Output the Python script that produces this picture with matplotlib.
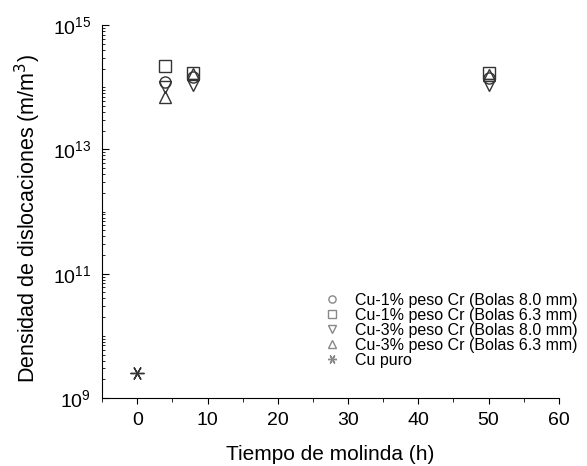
import matplotlib.pyplot as plt
from matplotlib.ticker import LogLocator, NullFormatter, MultipleLocator, FixedLocator

plt.rcParams['font.family'] = ['Liberation Sans', 'DejaVu Sans']

# datos
tiempo = [4, 8, 50]
cu1_8 = [1.2e14, 1.45e14, 1.4e14]   # Cu-1% Cr, bolas 8.0 mm
cu1_63 = [2.2e14, 1.7e14, 1.7e14]   # Cu-1% Cr, bolas 6.3 mm
cu3_8 = [1.0e14, 1.1e14, 1.1e14]    # Cu-3% Cr, bolas 8.0 mm
cu3_63 = [7.0e13, 1.65e14, 1.6e14]  # Cu-3% Cr, bolas 6.3 mm
tiempo_puro = [0]
cu_puro = [2.5e9]
y_mayores = [1e9, 1e11, 1e13, 1e15]

series = [
    (tiempo, cu1_8, 'o', 'Cu-1% peso Cr (Bolas 8.0 mm)'),
    (tiempo, cu1_63, 's', 'Cu-1% peso Cr (Bolas 6.3 mm)'),
    (tiempo, cu3_8, 'v', 'Cu-3% peso Cr (Bolas 8.0 mm)'),
    (tiempo, cu3_63, '^', 'Cu-3% peso Cr (Bolas 6.3 mm)'),
]

fig = plt.figure(figsize=(5.87, 4.66), dpi=100)
ax = fig.add_axes([0.174, 0.146, 0.778, 0.800])

for x, y, m, lab in series:
    ax.plot(x, y, linestyle='none', marker=m, markersize=8,
            markerfacecolor='none', markeredgecolor='#333333',
            markeredgewidth=1.0, label=lab)
ax.plot(tiempo_puro, cu_puro, linestyle='none', marker=(6, 2, 90), markersize=10,
        markeredgecolor='#333333', markeredgewidth=1.0, label='Cu puro')

ax.set_yscale('log')
ax.set_ylim(1e9, 1e15)
ax.set_xlim(-5, 60)

ax.yaxis.set_major_locator(FixedLocator(y_mayores))
ax.yaxis.set_minor_locator(LogLocator(base=10, subs=range(1, 10), numticks=50))
ax.yaxis.set_minor_formatter(NullFormatter())
ax.xaxis.set_major_locator(MultipleLocator(10))
ax.xaxis.set_minor_locator(MultipleLocator(5))

ax.spines['top'].set_visible(False)
ax.spines['right'].set_visible(False)
ax.tick_params(axis='x', which='major', direction='out', length=4, labelsize=14, pad=6)
ax.tick_params(axis='x', which='minor', direction='out', length=3)
ax.tick_params(axis='y', which='major', direction='in', length=5, labelsize=14, pad=8)
ax.tick_params(axis='y', which='minor', direction='in', length=2.5)

ax.set_xlabel('Tiempo de molinda (h)', fontsize=15)
ax.xaxis.set_label_coords(0.5, -0.125)
ax.set_ylabel('Densidad de dislocaciones (m/m$^3$)', fontsize=15.5)
ax.yaxis.set_label_coords(-0.13, 0.48)

leg = ax.legend(loc='lower right', bbox_to_anchor=(1.0, 0.19),
                bbox_transform=fig.transFigure, frameon=False, fontsize=11.5,
                handlelength=1.2, handletextpad=0.8, labelspacing=0.0,
                borderaxespad=0.2, markerscale=0.65)
for h in leg.legend_handles:
    h.set_markeredgecolor('#888888')

fig.savefig('out.png', dpi=100, facecolor='white')
